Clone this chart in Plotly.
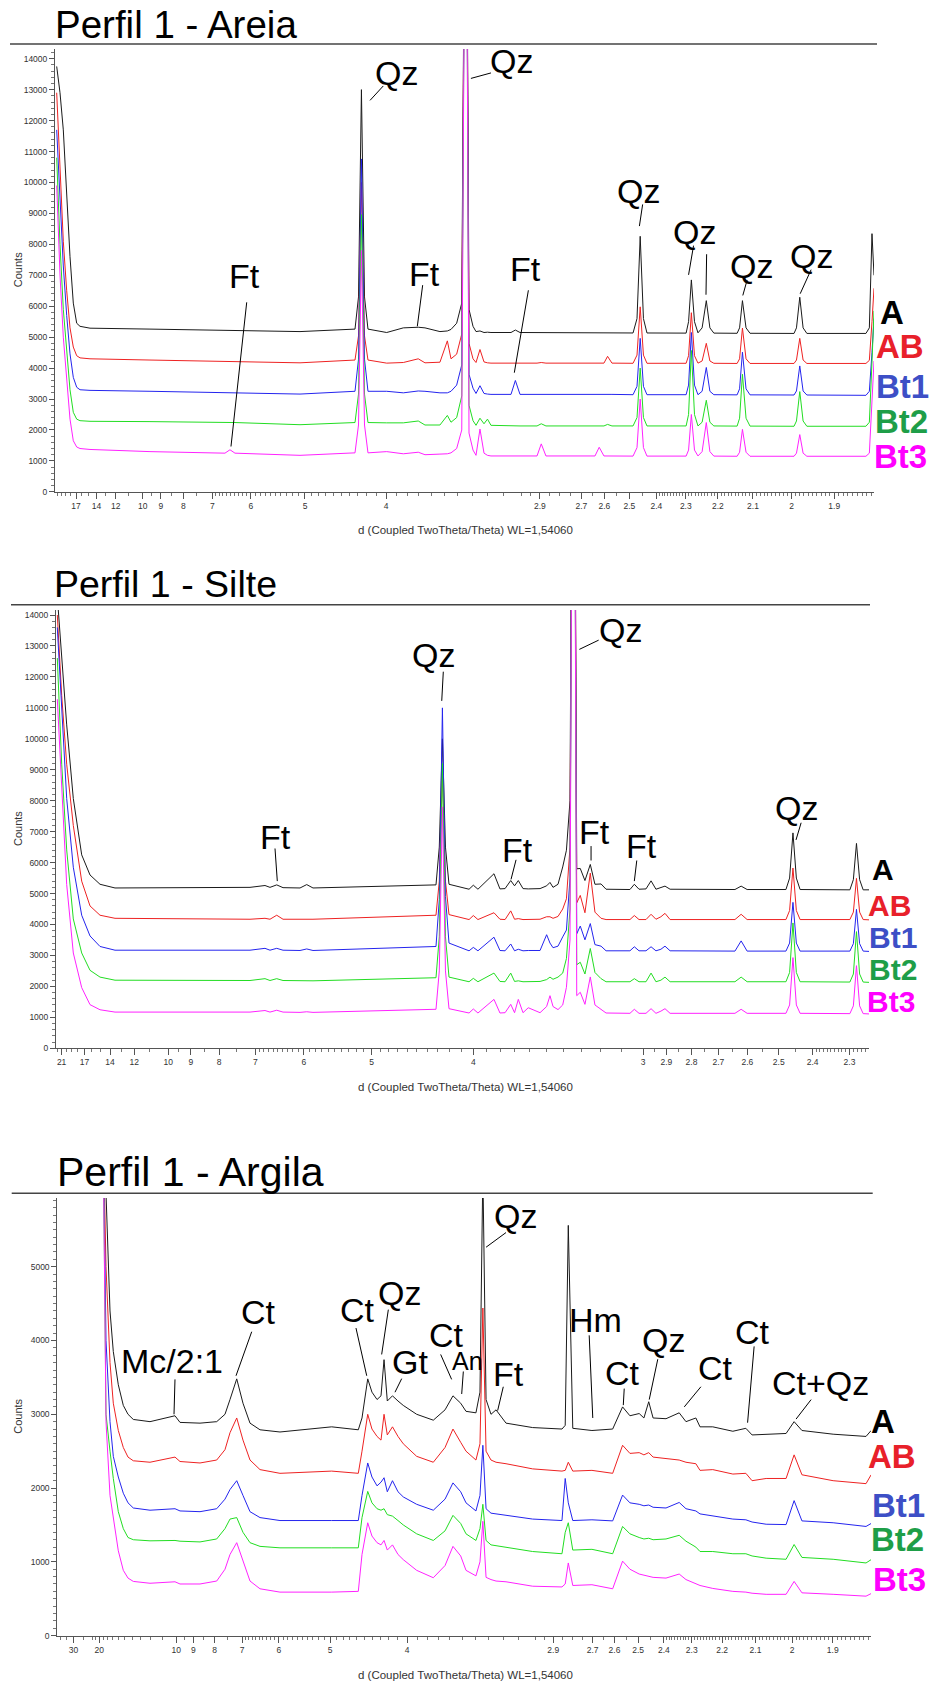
import plotly.graph_objects as go

# ============================ DATA ============================
# d-spacing (Angstrom) of the traced vertices, shared by the five horizons of each panel
series_names = ["A", "AB", "Bt1", "Bt2", "Bt3"]

# ---- Perfil 1 - Areia ----
areia_d = [21.314, 20.428, 19.613, 18.839, 18.143, 17.497, 16.878, 16.318, 14.826, 9.575, 7.393, 6.637, 6.504,
           6.376, 5.078, 4.332, 4.292, 4.259, 4.225, 4.187, 3.994, 3.837, 3.706, 3.650, 3.531, 3.475, 3.448, 3.407,
           3.371, 3.343, 3.321, 3.294, 3.274, 3.248, 3.222, 3.200, 3.178, 3.058, 3.033, 3.007, 2.915, 2.893, 2.869,
           2.640, 2.622, 2.602, 2.587, 2.569, 2.486, 2.471, 2.459, 2.447, 2.434, 2.299, 2.291, 2.282, 2.272, 2.261,
           2.248, 2.235, 2.224, 2.212, 2.144, 2.137, 2.129, 2.119, 2.108, 1.994, 1.988, 1.980, 1.972, 1.963, 1.832,
           1.825, 1.8196, 1.8155]
areia_A = [13750, 12900, 11700, 9600, 7600, 6100, 5450, 5350, 5290, 5260, 5230, 5220, 5230, 5220, 5180, 5260, 6300,
           13000, 6300, 5260, 5150, 5300, 5320, 5300, 5180, 5200, 5250, 5450, 6100, 25000, 5900, 5350, 5180, 5200,
           5150, 5160, 5150, 5150, 5230, 5150, 5150, 5150, 5140, 5140, 5140, 5140, 5140, 5140, 5135, 5600, 8260, 5600,
           5135, 5130, 5500, 6850, 5500, 5140, 5300, 6180, 5300, 5130, 5125, 5300, 6180, 5300, 5125, 5120, 5300, 6290,
           5300, 5120, 5120, 5300, 8345, 7000]
areia_AB = [12900, 10500, 8100, 6500, 5300, 4680, 4400, 4330, 4300, 4260, 4230, 4220, 4220, 4220, 4170, 4260, 5040,
            10000, 5040, 4260, 4160, 4180, 4300, 4170, 4190, 4880, 4300, 4450, 5100, 25000, 4800, 4300, 4180, 4600,
            4200, 4170, 4160, 4160, 4170, 4160, 4160, 4180, 4160, 4160, 4160, 4160, 4380, 4160, 4155, 4420, 5980,
            4420, 4155, 4155, 4400, 5790, 4400, 4160, 4230, 4800, 4230, 4155, 4150, 4300, 5295, 4300, 4150, 4150,
            4260, 4960, 4260, 4150, 4150, 4250, 5500, 6580]
areia_Bt1 = [11700, 9240, 7300, 5700, 4460, 3700, 3380, 3300, 3280, 3250, 3220, 3210, 3210, 3210, 3160, 3250, 4290,
             10760, 4290, 3250, 3250, 3200, 3260, 3250, 3200, 3200, 3250, 3450, 4100, 25000, 3800, 3350, 3180, 3430,
             3180, 3160, 3150, 3150, 3600, 3150, 3150, 3170, 3150, 3150, 3150, 3150, 3150, 3150, 3140, 3410, 4960,
             3410, 3140, 3140, 3450, 5150, 3450, 3140, 3250, 4020, 3250, 3140, 3135, 3330, 4515, 3330, 3135, 3130,
             3260, 4070, 3260, 3130, 3120, 3250, 4500, 5600]
areia_Bt2 = [10800, 8000, 5900, 4500, 3300, 2570, 2350, 2300, 2280, 2270, 2250, 2240, 2240, 2240, 2170, 2240, 3160,
             8960, 3160, 2240, 2230, 2230, 2290, 2160, 2160, 2470, 2250, 2400, 3100, 25000, 2800, 2300, 2150, 2380,
             2200, 2350, 2150, 2130, 2140, 2130, 2130, 2200, 2130, 2130, 2130, 2130, 2180, 2130, 2130, 2400, 4000,
             2400, 2130, 2130, 2500, 4570, 2500, 2130, 2250, 2960, 2250, 2130, 2125, 2380, 3800, 2380, 2125, 2120,
             2290, 3240, 2290, 2120, 2120, 2250, 4200, 5850]
areia_Bt3 = [9900, 7010, 5000, 3700, 2350, 1650, 1450, 1400, 1370, 1300, 1260, 1250, 1360, 1250, 1180, 1260, 2160,
             7800, 2160, 1260, 1300, 1230, 1280, 1200, 1220, 1230, 1260, 1400, 2000, 25000, 1900, 1350, 1180, 2030,
             1250, 1180, 1160, 1160, 1170, 1160, 1160, 1550, 1160, 1160, 1440, 1160, 1160, 1160, 1155, 1430, 3000,
             1430, 1155, 1155, 1350, 2500, 1350, 1160, 1300, 2240, 1300, 1155, 1150, 1280, 2020, 1280, 1150, 1150,
             1250, 1850, 1250, 1150, 1150, 1250, 2800, 4230]
areia_ticks = [17, 14, 12, 10, 9, 8, 7, 6, 5, 4, 2.9, 2.7, 2.6, 2.5, 2.4, 2.3, 2.2, 2.1, 2, 1.9]
# peak labels: (text, d, counts) and leader lines: (d0, counts0, d1, counts1)
areia_peaks = [("Qz", 3.898, 13550), ("Qz", 3.058, 13918), ("Ft", 6.135, 6992), ("Ft", 3.658, 7048),
               ("Ft", 2.974, 7203), ("Qz", 2.465, 9734), ("Qz", 2.273, 8390), ("Qz", 2.105, 7292),
               ("Qz", 1.953, 7625)]
areia_leaders = [(4.028, 13119, 4.165, 12653), (3.178, 13540, 3.308, 13363), (6.095, 6126, 6.478, 1465),
                 (3.669, 6681, 3.714, 5350), (2.961, 6515, 3.039, 3851), (2.450, 9290, 2.462, 8590),
                 (2.275, 7958, 2.291, 7014), (2.234, 7680, 2.236, 6371), (2.116, 6848, 2.128, 6348),
                 (1.953, 7181, 1.979, 6404)]
areia_legend_counts = [5794, 4706, 3418, 2264, 1154]

# ---- Perfil 1 - Silte ----
silte_d = [21.976, 20.979, 19.951, 18.738, 17.393, 16.241, 15.041, 13.540, 7.133, 6.777, 6.666, 6.522, 6.393, 6.069,
           5.950, 5.843, 4.318, 4.288, 4.260, 4.233, 4.202, 4.035, 4.001, 3.965, 3.845, 3.802, 3.766, 3.727, 3.701,
           3.676, 3.645, 3.611, 3.537, 3.497, 3.477, 3.459, 3.430, 3.403, 3.382, 3.362, 3.343, 3.325, 3.306, 3.281,
           3.253, 3.229, 3.198, 3.173, 3.059, 3.039, 3.018, 2.987, 2.965, 2.944, 2.923, 2.906, 2.885, 2.642, 2.621,
           2.601, 2.478, 2.467, 2.457, 2.447, 2.436, 2.299, 2.290, 2.282, 2.274, 2.265, 2.250]
silte_A = [14600, 12700, 10450, 8070, 6250, 5600, 5300, 5180, 5200, 5260, 5200, 5280, 5190, 5180, 5290, 5180, 5280,
           6500, 10000, 6500, 5300, 5140, 5270, 5140, 5640, 5150, 5160, 5420, 5250, 5420, 5160, 5150, 5160, 5250,
           5360, 5200, 5300, 5860, 6400, 8000, 30000, 5800, 5810, 5420, 5940, 5300, 5310, 5140, 5130, 5300, 5140,
           5150, 5410, 5140, 5200, 5240, 5140, 5130, 5240, 5130, 5130, 5500, 6960, 5500, 5130, 5120, 5450, 6620,
           5450, 5120, 5120]
silte_AB = [14000, 11400, 9180, 7200, 5400, 4600, 4300, 4200, 4170, 4200, 4170, 4300, 4170, 4170, 4190, 4170, 4300,
            5400, 9000, 5400, 4320, 4160, 4290, 4160, 4380, 4170, 4160, 4440, 4170, 4190, 4160, 4170, 4170, 4250,
            4250, 4200, 4260, 4500, 4830, 6500, 30000, 4700, 4940, 4380, 5660, 4400, 4200, 4160, 4160, 4290, 4160,
            4160, 4330, 4170, 4250, 4360, 4160, 4160, 4330, 4160, 4160, 4450, 5825, 4450, 4160, 4160, 4400, 5490,
            4400, 4160, 4150]
silte_Bt1 = [13600, 10840, 8070, 5850, 4300, 3630, 3290, 3170, 3170, 3230, 3170, 3230, 3170, 3160, 3210, 3160, 3290,
             4800, 11000, 4900, 3400, 3150, 3260, 3150, 3590, 3160, 3150, 3370, 3150, 3200, 3150, 3160, 3160, 3670,
             3400, 3250, 3300, 3600, 3820, 5500, 30000, 3700, 3950, 3505, 4030, 3350, 3300, 3150, 3150, 3280, 3150,
             3150, 3280, 3150, 3200, 3300, 3150, 3140, 3470, 3140, 3140, 3400, 4715, 3400, 3140, 3140, 3380, 4490,
             3380, 3140, 3130]
silte_Bt2 = [12610, 9180, 6410, 4180, 3080, 2520, 2300, 2200, 2190, 2250, 2190, 2250, 2190, 2180, 2200, 2180, 2280,
             3600, 9200, 3600, 2300, 2150, 2260, 2150, 2430, 2160, 2150, 2430, 2160, 2180, 2150, 2160, 2160, 2220,
             2300, 2230, 2300, 2430, 2900, 4500, 30000, 2700, 2780, 2400, 3225, 2450, 2250, 2150, 2150, 2250, 2150,
             2150, 2430, 2150, 2200, 2300, 2150, 2150, 2300, 2150, 2150, 2450, 4050, 2450, 2150, 2140, 2400, 3770,
             2400, 2140, 2130]
silte_Bt3 = [11280, 8290, 5290, 3080, 1960, 1410, 1245, 1170, 1170, 1220, 1170, 1230, 1170, 1160, 1180, 1160, 1260,
             2500, 7800, 2500, 1280, 1140, 1270, 1140, 1580, 1140, 1150, 1420, 1150, 1580, 1150, 1310, 1150, 1350,
             1700, 1350, 1250, 1400, 1970, 3500, 30000, 1700, 1810, 1420, 2305, 1400, 1250, 1140, 1130, 1260, 1130,
             1130, 1280, 1130, 1200, 1280, 1130, 1130, 1260, 1130, 1130, 1400, 2930, 1400, 1130, 1120, 1370, 2670,
             1370, 1120, 1110]
silte_ticks = [21, 17, 14, 12, 10, 9, 8, 7, 6, 5, 4, 3, 2.9, 2.8, 2.7, 2.6, 2.5, 2.4, 2.3]
silte_peaks = [("Ft", 6.558, 6822), ("Qz", 4.343, 12723), ("Qz", 3.105, 13500), ("Ft", 3.680, 6423),
               ("Ft", 3.232, 6988), ("Ft", 3.009, 6534), ("Qz", 2.448, 7754)]
silte_leaders = [(6.558, 6456, 6.510, 5402), (4.252, 12169, 4.266, 11226), (3.210, 13189, 3.311, 12890),
                 (3.691, 6090, 3.725, 5458), (3.249, 6534, 3.249, 6068), (3.028, 6068, 3.039, 5402),
                 (2.433, 7288, 2.448, 6733)]
silte_legend_counts = [5790, 4600, 3580, 2560, 1520]

# ---- Perfil 1 - Argila ----
argila_d = [19.059, 18.377, 17.540, 16.905, 16.025, 15.232, 14.556, 13.861, 12.050, 10.079, 9.759, 8.661, 7.918,
            7.594, 7.411, 7.179, 6.975, 6.760, 6.476, 5.974, 4.976, 4.582, 4.532, 4.457, 4.403, 4.340, 4.292, 4.256,
            4.218, 4.159, 4.098, 4.041, 3.904, 3.746, 3.642, 3.575, 3.512, 3.470, 3.394, 3.364, 3.343, 3.320, 3.285,
            3.250, 3.183, 3.017, 2.853, 2.836, 2.820, 2.797, 2.703, 2.608, 2.565, 2.534, 2.496, 2.477, 2.458, 2.441,
            2.392, 2.344, 2.320, 2.286, 2.272, 2.230, 2.167, 2.128, 2.110, 2.070, 2.016, 1.995, 1.975, 1.899, 1.825,
            1.814]
argila_A = [7000, 6000, 4400, 3850, 3400, 3120, 3000, 2930, 2900, 2980, 2890, 2880, 2900, 3000, 3200, 3480, 3150,
            2880, 2790, 2760, 2830, 2790, 2950, 3480, 3300, 3200, 3250, 3740, 3180, 3250, 3180, 3120, 3000, 2920,
            3060, 3250, 3150, 3040, 3020, 3300, 6300, 3200, 3000, 3060, 2880, 2820, 2800, 2850, 5560, 2810, 2780,
            2800, 3100, 2980, 3010, 2950, 3170, 2950, 2940, 3020, 2900, 2950, 2830, 2830, 2770, 2810, 2720, 2730,
            2740, 2900, 2780, 2730, 2700, 2780]
argila_AB = [7000, 5000, 3700, 3150, 2780, 2550, 2420, 2370, 2350, 2420, 2360, 2340, 2380, 2520, 2750, 2950, 2650,
             2380, 2250, 2200, 2230, 2200, 2500, 3000, 2800, 2700, 2650, 3000, 2720, 2830, 2700, 2600, 2430, 2350,
             2550, 2800, 2620, 2500, 2380, 2600, 4440, 2500, 2380, 2350, 2330, 2260, 2230, 2240, 2350, 2230, 2240,
             2200, 2580, 2470, 2480, 2450, 2480, 2420, 2400, 2380, 2350, 2330, 2240, 2250, 2190, 2200, 2100, 2130,
             2130, 2450, 2180, 2100, 2060, 2180]
argila_Bt1 = [7000, 4000, 2900, 2430, 2150, 1930, 1800, 1730, 1700, 1720, 1690, 1680, 1720, 1850, 1980, 2100, 1900,
              1680, 1600, 1560, 1560, 1560, 1900, 2340, 2150, 2030, 2080, 2140, 1950, 2100, 1950, 1880, 1780, 1700,
              1850, 2070, 1950, 1800, 1690, 1900, 2580, 1720, 1660, 1650, 1630, 1580, 1560, 2130, 1800, 1560, 1570,
              1555, 1905, 1800, 1780, 1760, 1770, 1740, 1730, 1805, 1720, 1690, 1650, 1620, 1580, 1570, 1540, 1510,
              1505, 1830, 1555, 1530, 1480, 1520]
argila_Bt2 = [7000, 3000, 2500, 2130, 1680, 1450, 1330, 1300, 1285, 1290, 1280, 1270, 1310, 1450, 1580, 1600, 1400,
              1260, 1210, 1190, 1190, 1190, 1600, 1955, 1800, 1720, 1700, 1720, 1640, 1620, 1560, 1500, 1380, 1290,
              1420, 1630, 1520, 1380, 1290, 1450, 1780, 1290, 1230, 1220, 1200, 1140, 1110, 1400, 1530, 1160, 1170,
              1110, 1480, 1380, 1330, 1310, 1320, 1300, 1310, 1360, 1280, 1200, 1140, 1140, 1110, 1110, 1080, 1050,
              1035, 1235, 1060, 1035, 985, 1030]
argila_Bt3 = [7000, 2900, 1900, 1600, 1150, 885, 780, 735, 710, 730, 700, 700, 740, 900, 1100, 1260, 1000, 740, 635,
              590, 590, 600, 1100, 1530, 1350, 1260, 1230, 1290, 1160, 1230, 1100, 1030, 885, 785, 950, 1210, 1080,
              885, 810, 1000, 1550, 790, 760, 740, 730, 670, 660, 700, 985, 680, 690, 635, 1010, 900, 835, 820, 810,
              790, 780, 835, 760, 700, 680, 640, 600, 590, 575, 560, 560, 735, 580, 560, 535, 570]
argila_ticks = [30, 20, 10, 9, 8, 7, 6, 5, 4, 2.9, 2.7, 2.6, 2.5, 2.4, 2.3, 2.2, 2.1, 2, 1.9]
argila_peaks = [("Mc/2:1", 10.301, 3721), ("Ct", 6.523, 4383), ("Ct", 4.596, 4418), ("Qz", 4.087, 4642),
                ("Gt", 3.971, 3711), ("Ct", 3.628, 4070), ("An", 3.462, 3721), ("Qz", 3.123, 5687),
                ("Ft", 3.165, 3547), ("Hm", 2.684, 4279), ("Ct", 2.565, 3562), ("Qz", 2.402, 4010),
                ("Ct", 2.220, 3622), ("Ct", 2.108, 4109), ("Ct+Qz", 1.930, 3423)]
argila_leaders = [(10.079, 3473, 10.145, 3000), (6.710, 4119, 7.203, 3522), (4.614, 4169, 4.470, 3522),
                  (4.206, 4418, 4.284, 3811), (4.058, 3483, 4.131, 3299), (3.680, 3811, 3.586, 3473),
                  (3.491, 3580, 3.504, 3275), (3.183, 5463, 3.320, 5264), (3.201, 3373, 3.239, 3050),
                  (2.716, 4070, 2.699, 2950), (2.558, 3348, 2.562, 3124), (2.423, 3746, 2.456, 3199),
                  (2.269, 3373, 2.326, 3100), (2.104, 3920, 2.123, 2886), (1.952, 3199, 1.990, 2935)]
argila_legend_counts = [2900, 2428, 1761, 1308, 761]

# unlabeled (minor) d ticks
minor_d = ([40, 35, 25, 22, 21, 20, 19, 18, 17, 16, 15, 14, 13, 12, 11, 9.5, 8.5, 7.5]
           + [round(7 - 0.1 * i, 2) for i in range(1, 41)]
           + [2.95, 2.9, 2.85, 2.8, 2.75, 2.7, 2.65, 2.6, 2.55, 2.5, 2.45]
           + [round(2.40 - 0.01 * i, 2) for i in range(0, 60)])

# ============================ STYLE / LAYOUT ============================
W, H = 932, 1689
FONT = "Liberation Sans, Arial, sans-serif"
line_colors = ["#1a1a1a", "#ee2222", "#2424ee", "#22dd22", "#ff22ff"]
label_colors = ["#000000", "#e8202a", "#3d4fc6", "#1e9e48", "#ff00ff"]
AXC = "#555555"

panels = [
    dict(title="Perfil 1 - Areia", d=areia_d, ys=[areia_A, areia_AB, areia_Bt1, areia_Bt2, areia_Bt3],
         ticks=areia_ticks, peaks=areia_peaks, leaders=areia_leaders, legend=areia_legend_counts,
         box=(55, 874, 49.2, 493.3), dlim=(21.8, 1.8155), ymax=14312, yminor=200,
         title_xy=(53, 24.4), title_size=38.5, rule=(10, 877, 44.1), xtitle_y=532,
         legend_x=[879, 875, 875, 874, 873], legend_size=33, counts_y=271),
    dict(title="Perfil 1 - Silte", d=silte_d, ys=[silte_A, silte_AB, silte_Bt1, silte_Bt2, silte_Bt3],
         ticks=silte_ticks, peaks=silte_peaks, leaders=silte_leaders, legend=silte_legend_counts,
         box=(56, 869, 611.7, 1051.4), dlim=(22.29, 2.2504), ymax=14166, yminor=200,
         title_xy=(52, 586), title_size=37.5, rule=(11, 870, 606.5), xtitle_y=1090.3,
         legend_x=[871, 867, 867.5, 867.5, 866], legend_size=30, counts_y=831.5),
    dict(title="Perfil 1 - Argila", d=argila_d, ys=[argila_A, argila_AB, argila_Bt1, argila_Bt2, argila_Bt3],
         ticks=argila_ticks, peaks=argila_peaks, leaders=argila_leaders, legend=argila_legend_counts,
         box=(57.3, 871, 1201.5, 1640.5), dlim=(43.88, 1.8143), ymax=5932, yminor=100,
         title_xy=(55, 1175.7), title_size=41, rule=(11.7, 872.7, 1196.7), xtitle_y=1680,
         legend_x=[870.3, 867, 871, 870.3, 872], legend_size=33, counts_y=1421),
]


def px(xp):
    return xp / W


def py(yp):
    return 1 - yp / H


fig = go.Figure()
layout = dict(width=W, height=H, autosize=False, margin=dict(l=0, r=0, t=0, b=0),
              paper_bgcolor="white", plot_bgcolor="white", showlegend=False,
              font=dict(family=FONT, color="#222"))
annotations = []
shapes = []

for i, p in enumerate(panels, start=1):
    sfx = "" if i == 1 else str(i)
    xr, yr = "x" + sfx, "y" + sfx
    q = [1.0 / v for v in p["d"]]
    for name, vals, col in zip(series_names, p["ys"], line_colors):
        fig.add_trace(go.Scatter(x=q, y=vals, mode="lines", name=name, line=dict(color=col, width=1),
                                 xaxis=xr, yaxis=yr, hoverinfo="skip"))
    x0, x1, yt, yb = p["box"]
    layout["xaxis" + sfx] = dict(
        domain=[px(x0), px(x1)], range=[1 / p["dlim"][0], 1 / p["dlim"][1]], anchor=yr,
        tickmode="array", tickvals=[1 / v for v in p["ticks"]], ticktext=[f"{v:g}" for v in p["ticks"]],
        ticks="outside", ticklen=6, tickwidth=1, tickcolor=AXC, showline=True, linecolor=AXC, linewidth=1,
        showgrid=False, zeroline=False, fixedrange=True,
        tickfont=dict(family=FONT, size=8.5, color="#333"),
        minor=dict(tickmode="array", tickvals=[1 / v for v in minor_d], ticks="outside", ticklen=3,
                   tickwidth=1, tickcolor="#777", showgrid=False))
    layout["yaxis" + sfx] = dict(
        domain=[py(yb), py(yt)], range=[0, p["ymax"]], anchor=xr, tick0=0, dtick=1000, tickformat="d",
        ticks="outside", ticklen=5, tickwidth=1, tickcolor=AXC, showline=True, linecolor=AXC, linewidth=1,
        showgrid=False, zeroline=False, fixedrange=True,
        tickfont=dict(family=FONT, size=8.5, color="#333"),
        minor=dict(dtick=p["yminor"], ticks="outside", ticklen=3, tickwidth=1, tickcolor="#777", showgrid=False))

    # panel title and rule
    annotations.append(dict(text=p["title"], xref="paper", yref="paper", x=px(p["title_xy"][0]),
                            y=py(p["title_xy"][1]), xanchor="left", yanchor="middle", showarrow=False,
                            font=dict(family=FONT, size=p["title_size"], color="#000")))
    rx0, rx1, ry = p["rule"]
    shapes.append(dict(type="line", xref="paper", yref="paper", x0=px(rx0), x1=px(rx1), y0=py(ry), y1=py(ry),
                       line=dict(color="#444", width=1.5)))
    # axis titles
    annotations.append(dict(text="Counts", xref="paper", yref="paper", x=px(18), y=py(p["counts_y"]),
                            textangle=-90, showarrow=False, xanchor="center", yanchor="middle",
                            font=dict(family=FONT, size=11, color="#333")))
    annotations.append(dict(text="d (Coupled TwoTheta/Theta) WL=1,54060", xref="paper", yref="paper",
                            x=px(465.5), y=py(p["xtitle_y"]), showarrow=False, xanchor="center",
                            yanchor="middle", font=dict(family=FONT, size=11.5, color="#333")))
    # horizon labels (tightly stacked, as in the original)
    for name, cy, lx, lc in zip(series_names, p["legend"], p["legend_x"], label_colors):
        annotations.append(dict(text=f"<b>{name}</b>", xref="paper", yref=yr, x=px(lx), y=cy,
                                xanchor="left", yanchor="middle", showarrow=False, borderpad=0,
                                font=dict(family=FONT, size=p["legend_size"], color=lc)))
    # mineral labels
    for txt, dd, cc in p["peaks"]:
        annotations.append(dict(text=txt, xref=xr, yref=yr, x=1 / dd, y=cc, xanchor="center",
                                yanchor="middle", showarrow=False, borderpad=0,
                                font=dict(family=FONT, size=25 if txt == "An" else 34, color="#000")))
    for d0, c0, d1, c1 in p["leaders"]:
        shapes.append(dict(type="line", xref=xr, yref=yr, x0=1 / d0, y0=c0, x1=1 / d1, y1=c1,
                           line=dict(color="#000", width=1)))

layout["annotations"] = annotations
layout["shapes"] = shapes
fig.update_layout(**layout)
fig.write_html("out.html", config={"displayModeBar": False, "staticPlot": True})
